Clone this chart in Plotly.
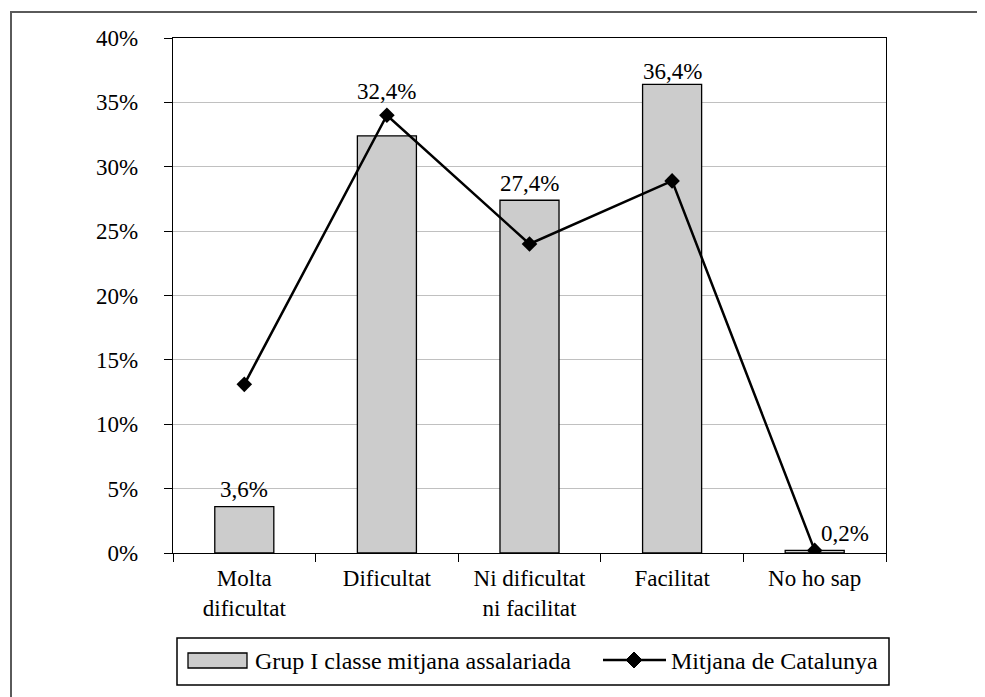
import plotly.graph_objects as go

categories = ["Molta<br>dificultat", "Dificultat", "Ni dificultat<br>ni facilitat", "Facilitat", "No ho sap"]
bar_name = "Grup I classe mitjana assalariada"
line_name = "Mitjana de Catalunya"
bar_values = [3.6, 32.4, 27.4, 36.4, 0.2]
line_values = [13.1, 34.0, 24.0, 28.9, 0.2]
y_ticks = [0, 5, 10, 15, 20, 25, 30, 35, 40]
y_tick_labels = ["0%", "5%", "10%", "15%", "20%", "25%", "30%", "35%", "40%"]

FONT = "Liberation Serif"
FS = 23

# label offsets (pixels) for the bar value labels
label_yshift = [17, 44, 17, 13, 17]
label_xshift = [0, 0, 0, 0, 30]

fig = go.Figure()
fig.add_trace(go.Bar(
    x=categories, y=bar_values, name=bar_name,
    marker=dict(color="#cccccc", line=dict(color="black", width=1.3)),
    showlegend=False,
))
fig.add_trace(go.Scatter(
    x=categories, y=line_values, name=line_name, mode="lines+markers",
    line=dict(color="black", width=2.5),
    marker=dict(symbol="diamond", size=12, color="black"),
    showlegend=False,
))

for c, v, dy, dx in zip(categories, bar_values, label_yshift, label_xshift):
    fig.add_annotation(
        x=c, y=v, text=f"{v:.1f}".replace(".", ",") + "%",
        showarrow=False, yanchor="middle", xanchor="center",
        yshift=dy, xshift=dx, font=dict(family=FONT, size=FS, color="black"),
    )

# page offset of the figure (body margin)
OFF = 8
# pixel -> paper helpers (plot area in page px: x 173..886, y 38..553)
L, R, T, B = 173, 886, 38, 553
def px(x):
    return (x - L) / (R - L)
def py(y):
    return (B - y) / (B - T)

shapes = []
# outer frame
shapes.append(dict(type="rect", xref="paper", yref="paper",
                   x0=px(11), y0=-0.6, x1=1.5, y1=py(12),
                   line=dict(color="#5a5a5a", width=2), fillcolor="rgba(0,0,0,0)", layer="below"))
# legend box
shapes.append(dict(type="rect", xref="paper", yref="paper",
                   x0=px(177), y0=py(685), x1=px(889), y1=py(638),
                   line=dict(color="black", width=1.5)))
# bar legend symbol
shapes.append(dict(type="rect", xref="paper", yref="paper",
                   x0=px(188), y0=py(668), x1=px(247), y1=py(653),
                   line=dict(color="black", width=1.3), fillcolor="#cccccc"))
# line legend symbol
shapes.append(dict(type="line", xref="paper", yref="paper",
                   x0=px(603), y0=py(660), x1=px(666), y1=py(660),
                   line=dict(color="black", width=2.5)))
cx, cy, r = 634, 660, 8
shapes.append(dict(type="path", xref="paper", yref="paper",
                   path=f"M{px(cx-r)},{py(cy)} L{px(cx)},{py(cy-r)} L{px(cx+r)},{py(cy)} L{px(cx)},{py(cy+r)} Z",
                   fillcolor="black", line=dict(color="black", width=1)))
fig.update_layout(shapes=shapes)

fig.add_annotation(xref="paper", yref="paper", x=px(253), y=py(661), text=bar_name,
                   showarrow=False, xanchor="left", yanchor="middle",
                   font=dict(family=FONT, size=FS + 1, color="black"))
fig.add_annotation(xref="paper", yref="paper", x=px(669), y=py(661), text=line_name,
                   showarrow=False, xanchor="left", yanchor="middle",
                   font=dict(family=FONT, size=FS + 1, color="black"))

W, H = 985 - OFF, 697 - OFF
fig.update_layout(
    width=W, height=H,
    margin=dict(l=L - OFF, r=985 - R, t=T - OFF, b=697 - B),
    paper_bgcolor="white", plot_bgcolor="white",
    font=dict(family=FONT, size=FS, color="black"),
    bargap=0.586,
    showlegend=False,
    xaxis=dict(
        showline=True, linecolor="black", linewidth=1.3, mirror=True,
        ticks="outside", ticklen=8, tickcolor="black", tickwidth=1.3,
        tickson="boundaries", showgrid=False, ticklabelstandoff=4,
        tickfont=dict(family=FONT, size=FS, color="black"),
    ),
    yaxis=dict(
        range=[0, 40], tickvals=y_ticks, ticktext=y_tick_labels,
        showline=True, linecolor="black", linewidth=1.3, mirror=True,
        ticks="outside", ticklen=8, tickcolor="black", tickwidth=1.3,
        showgrid=True, gridcolor="#c0c0c0", gridwidth=1.3,
        zeroline=False, ticklabelstandoff=21,
        tickfont=dict(family=FONT, size=FS, color="black"),
    ),
    yaxis2=dict(
        range=[0, 40], tickvals=y_ticks, overlaying="y", side="left",
        ticks="inside", ticklen=10, tickcolor="black", tickwidth=1.3,
        showticklabels=False, showgrid=False, showline=False, zeroline=False,
    ),
)

fig.write_html("out.html")
